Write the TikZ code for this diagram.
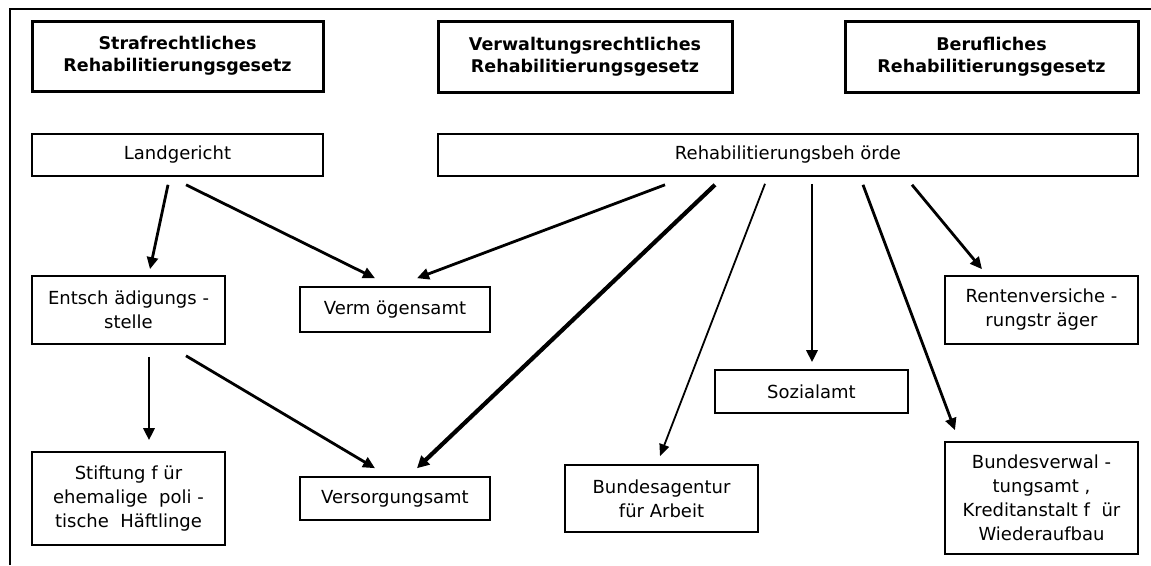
\documentclass[tikz,border=0pt]{standalone}
\usepackage{fontspec}
\setmainfont{DejaVu Sans}
\usetikzlibrary{arrows.meta}
\begin{document}
\begin{tikzpicture}[x=1pt,y=-1pt,
  titlebox/.style={draw,line width=3pt,inner sep=0pt,align=center,
    font=\bfseries\fontsize{17.5}{22}\selectfont},
  plainbox/.style={draw,line width=1.6pt,inner sep=0pt,align=center,
    font=\fontsize{18}{24}\selectfont},
  arr/.style={line width=2.8pt,-{Triangle[length=12pt,width=11pt]}},
  thinarr/.style={line width=1.8pt,-{Triangle[length=12pt,width=10pt]}},
  thickarr/.style={line width=4.2pt,-{Triangle[length=12pt,width=12pt]}}]
\useasboundingbox (0,0) rectangle (1151,565);
\draw[line width=2pt] (9.5,565) -- (9.5,9) -- (1151,9);
% title boxes
\node[titlebox,minimum width=291pt,minimum height=70pt] (t1) at (177.5,56) {Strafrechtliches\\Rehabilitierungsgesetz};
\node[titlebox,minimum width=294pt,minimum height=71pt] (t2) at (585,56.5) {Verwaltungsrechtliches\\Rehabilitierungsgesetz};
\node[titlebox,minimum width=293pt,minimum height=71pt] (t3) at (991.5,56.5) {Berufliches\\Rehabilitierungsgesetz};
% boxes
\node[plainbox,minimum width=291pt,minimum height=42pt] (lg) at (177.5,155) {Landgericht};
\node[plainbox,minimum width=700pt,minimum height=42pt] (rb) at (788,155) {Rehabilitierungsbeh örde};
\node[plainbox,minimum width=193pt,minimum height=68pt] (es) at (128.5,310) {Entsch ädigungs -\\stelle};
\node[plainbox,minimum width=190pt,minimum height=45pt] (vm) at (395,309.5) {Verm ögensamt};
\node[plainbox,minimum width=193pt,minimum height=93pt] (st) at (128.5,498.5) {Stiftung f ür\\ehemalige\ \ poli -\\tische\ \ Häftlinge};
\node[plainbox,minimum width=190pt,minimum height=43pt] (vs) at (395,498.5) {Versorgungsamt};
\node[plainbox,minimum width=193pt,minimum height=67pt] (ba) at (661.5,498.5) {Bundesagentur\\für Arbeit};
\node[plainbox,minimum width=193pt,minimum height=43pt] (sz) at (811.5,391.5) {Sozialamt};
\node[plainbox,minimum width=193pt,minimum height=68pt] (rv) at (1041.5,310) {Rentenversiche -\\rungstr äger};
\node[plainbox,minimum width=193pt,minimum height=112pt] (bv) at (1041.5,498) {Bundesverwal -\\tungsamt ,\\Kreditanstalt f\ \ ür\\Wiederaufbau};
% arrows
\draw[arr] ([shift={(-9.5,8)}]lg.south) -- ([shift={(21.5,-6)}]es.north);
\draw[arr] ([shift={(8.5,8)}]lg.south) -- ([shift={(-20,-8)}]vm.north);
\draw[arr] ([shift={(20.5,12)}]es.south) -- ([shift={(20.5,-11)}]st.north);
\draw[arr] ([shift={(57.5,11)}]es.south) -- ([shift={(-20,-8)}]vs.north);
\draw[arr] ([shift={(-123,8)}]rb.south) -- ([shift={(22,-8)}]vm.north);
\draw[thickarr] ([shift={(-73,8)}]rb.south) -- ([shift={(22,-8)}]vs.north);
\draw[thinarr] ([shift={(-23,7)}]rb.south) -- ([shift={(-1.5,-8)}]ba.north);
\draw[arr] ([shift={(24,7)}]rb.south) -- ([shift={(0.5,-7)}]sz.north);
\draw[arr] ([shift={(75,8)}]rb.south) -- ([shift={(-86.5,-11)}]bv.north);
\draw[arr] ([shift={(124,8)}]rb.south) -- ([shift={(-59.5,-6)}]rv.north);
\end{tikzpicture}
\end{document}
